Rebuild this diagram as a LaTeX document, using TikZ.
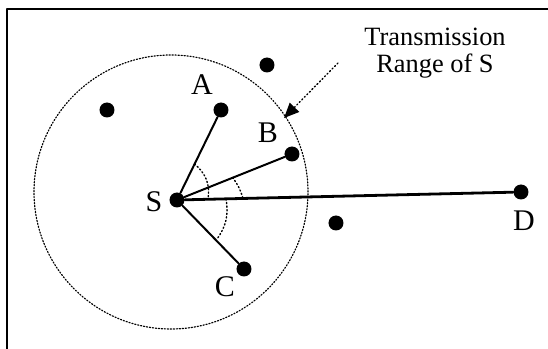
\documentclass[tikz,border=0pt]{standalone}
\usepackage{fontspec}
\setmainfont{Liberation Serif}
\usetikzlibrary{arrows.meta}

\tikzset{
  host/.style={circle, fill=black, inner sep=0pt, minimum size=7.5pt},
  link/.style={line width=1pt},
  anglemark/.style={line width=0.7pt, dash pattern=on 0.6pt off 1.2pt},
  rangeline/.style={line width=0.6pt, dash pattern=on 0.6pt off 0.9pt},
  lbl/.style={inner sep=0pt, font=\fontsize{15}{18}\selectfont},
  caption/.style={inner sep=0pt, align=center, font=\fontsize{13.2}{13.4}\selectfont}
}

\begin{document}
\begin{tikzpicture}[x=0.5pt, y=0.5pt, line cap=round, line join=round]

% parameters
\def\range{137}

\useasboundingbox (0,0) rectangle (548,349);

% frame (top and left only)
\draw[line width=1.2pt, line cap=butt] (7,0) -- (7,340) -- (548,340);

% transmission range
\draw[rangeline] (171,157) circle (\range);

% hosts
\node[host] (S) at (177,149) {};
\node[host] (A) at (221,239) {};
\node[host] (B) at (292,195) {};
\node[host] (C) at (244,80) {};
\node[host] (D) at (521,157) {};
\node[host] (n1) at (107,239) {};
\node[host] (n2) at (267,284) {};
\node[host] (n3) at (336,126) {};

% host labels
\node[lbl] (lblS) at (154,147) {S};
\node[lbl] (lblA) at (202,264) {A};
\node[lbl] (lblB) at (268,216) {B};
\node[lbl] (lblC) at (225,62) {C};
\node[lbl] (lblD) at (524,128) {D};

% links from S
\draw[link] (S) -- (A);
\draw[link] (S) -- (B);
\draw[link] (S) -- (C);
\draw[line width=1.4pt] (S) -- (D);

% angles
\draw[anglemark] ([shift={(64:40)}]S.center) to[bend left=30] ([shift={(1.3:31)}]S.center);
\draw[anglemark] ([shift={(22:60)}]S.center) to[bend left=10] ([shift={(1.3:66)}]S.center);
\draw[anglemark] ([shift={(1.3:49)}]S.center) to[bend left=23] ([shift={(-45:56)}]S.center);

% range caption
\node[caption] (rangecap) at (435,296) {Transmission\\Range of S};
\coordinate (tail) at (338,286);
\coordinate (tip) at (284,231);
\draw[line width=0.7pt, dash pattern=on 0.6pt off 1.2pt,
  -{Triangle[length=7.5pt, width=6.5pt, line cap=butt]}] (tail) -- (tip);

\end{tikzpicture}
\end{document}
